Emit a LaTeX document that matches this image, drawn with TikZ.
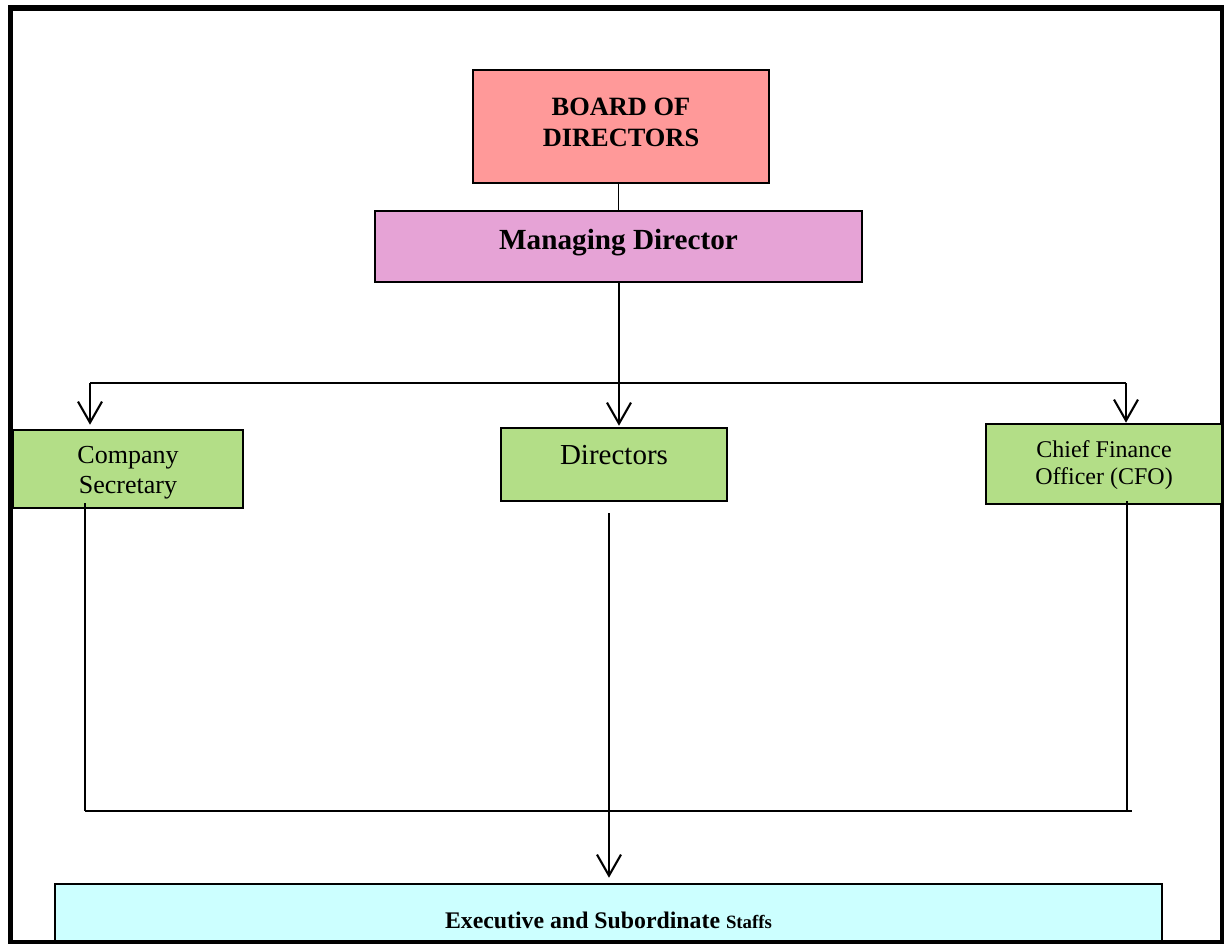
\documentclass[tikz,border=0pt]{standalone}
\usepackage{fontspec}
\setmainfont{Liberation Serif}
\usetikzlibrary{arrows.meta,calc}
\definecolor{boardc}{HTML}{FF9999}
\definecolor{mdc}{HTML}{E6A3D6}
\definecolor{greenc}{HTML}{B3DE87}
\definecolor{execc}{HTML}{CCFFFF}
\newcommand{\basetxt}[2]{\raisebox{#1}[0pt][0pt]{#2}}
\begin{document}
\begin{tikzpicture}[x=1pt,y=-1pt,
  box/.style={draw=black, line width=2.6pt, inner sep=0pt},
  conn/.style={draw=black, line width=2.1pt},
  arr/.style={conn, -{Straight Barb[length=21pt,width=24pt,line width=2.1pt]}}]
\useasboundingbox (0,0) rectangle (1226,944);
\fill[white] (0,0) rectangle (1226,944);
% frame
\fill[black] (8,5) rectangle (1224,11);
\fill[black] (8,5) rectangle (13,944);
\fill[black] (1220,5) rectangle (1224,944);
\fill[black] (8,940) rectangle (1224,944);
% boxes
\node[box, fill=boardc, minimum width=296pt, minimum height=113pt,
      font=\fontsize{26.4}{31}\selectfont\bfseries] (bod) at (621,126.5)
      {\basetxt{-20.5pt}{\begin{tabular}[b]{@{}c@{}}BOARD OF\\DIRECTORS\end{tabular}}};
\node[box, fill=mdc, minimum width=487pt, minimum height=71pt,
      font=\fontsize{29.2}{34}\selectfont\bfseries] (md) at (618.5,246.5)
      {\basetxt{-3.5pt}{Managing Director}};
\node[box, fill=greenc, minimum width=230pt, minimum height=78pt,
      font=\fontsize{26}{30}\selectfont] (cs) at (128,469)
      {\basetxt{-24pt}{\begin{tabular}[b]{@{}c@{}}Company\\Secretary\end{tabular}}};
\node[box, fill=greenc, minimum width=226pt, minimum height=73pt,
      font=\fontsize{29}{34}\selectfont] (dir) at (614,464.5)
      {\basetxt{0.5pt}{Directors}};
\node[box, fill=greenc, minimum width=236pt, minimum height=80pt,
      font=\fontsize{24}{27}\selectfont] (cfo) at (1104,464)
      {\basetxt{-20pt}{\begin{tabular}[b]{@{}c@{}}Chief Finance\\Officer (CFO)\end{tabular}}};
\node[box, fill=execc, minimum width=1107pt, minimum height=57pt] (exec) at (608.5,912.5)
      {\basetxt{-15.5pt}{\fontsize{23.8}{28}\selectfont\bfseries Executive and Subordinate {\fontsize{18.8}{22}\selectfont Staffs}}};
% top connectors
\coordinate (busL) at (90,383);
\coordinate (busR) at (1126,383);
\coordinate (busM) at (619,383);
\draw[conn, line width=1.6pt] (bod.south -| md.north) -- (md.north);
\draw[conn] (busL) -- (busR);
\draw[arr] (md.south -| busM) -- ([yshift=1pt]busM |- dir.north);
\draw[arr, shorten >=4pt] (busL) -- (busL |- cs.north);
\draw[arr] (busR) -- (busR |- cfo.north);
% bottom connectors
\coordinate (lowL) at (85,811);
\coordinate (lowM) at (609,811);
\coordinate (lowR) at (1132,811);
\coordinate (lowC) at (1127,811);
\draw[conn] ([yshift=6pt]cs.south -| lowL) -- (lowL);
\draw[conn] ([yshift=-11pt]dir.south -| lowM) -- (lowM);
\draw[conn] ([yshift=4pt]cfo.south -| lowC) -- (lowC);
\draw[conn] (lowL) -- (lowR);
\draw[arr, shorten >=5pt] (lowM) -- (lowM |- exec.north);
\end{tikzpicture}
\end{document}
